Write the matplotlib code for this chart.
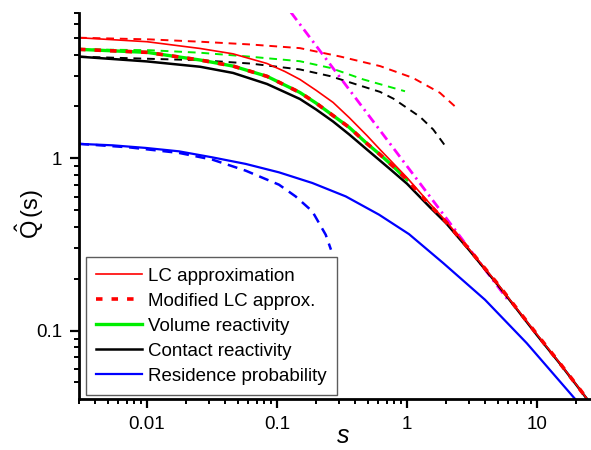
import numpy as np
import matplotlib
matplotlib.use('Agg')
import matplotlib.pyplot as plt
from matplotlib.ticker import LogLocator, FuncFormatter, NullFormatter

plt.rcParams['font.family'] = ['Liberation Sans', 'DejaVu Sans']
plt.rcParams['mathtext.fontset'] = 'custom'
plt.rcParams['mathtext.rm'] = 'Liberation Sans'
plt.rcParams['mathtext.it'] = 'Liberation Sans:italic'

# LC approximation (red solid)
s_lc = [0.003, 0.01, 0.0256, 0.0459, 0.0838, 0.115, 0.15, 0.2, 0.27, 0.36, 0.492, 0.62, 1.0, 1.5, 2, 3, 5, 7, 10, 15, 20, 25]
q_lc = [5.01, 4.75, 4.34, 4.04, 3.55, 3.19, 2.87, 2.48, 2.11, 1.72, 1.355, 1.124, 0.772, 0.545, 0.431, 0.298, 0.186, 0.134, 0.095, 0.0646, 0.0487, 0.039]

# volume reactivity (green)
s_vol = [0.003, 0.01, 0.0256, 0.0459, 0.0838, 0.15, 0.2, 0.27, 0.36, 0.492, 0.62, 0.786, 1.0]
q_vol = [4.29, 4.12, 3.72, 3.43, 2.99, 2.41, 2.09, 1.77, 1.51, 1.218, 1.051, 0.895, 0.752]

# modified LC approximation (red dotted)
s_mod = [0.003, 0.01, 0.0256, 0.0459, 0.0838, 0.15, 0.2, 0.27, 0.36, 0.492, 0.62, 0.786, 1.0, 1.5, 2, 3, 5, 7, 10, 15, 20, 25]
q_mod = [4.29, 4.12, 3.72, 3.43, 2.99, 2.41, 2.09, 1.77, 1.51, 1.218, 1.051, 0.895, 0.752, 0.535, 0.427, 0.297, 0.186, 0.134, 0.095, 0.0646, 0.0487, 0.039]

# contact reactivity (black)
s_con = [0.003, 0.01, 0.0256, 0.0459, 0.0838, 0.15, 0.2, 0.27, 0.36, 0.492, 0.74, 1.0, 1.5, 2, 3, 5, 7, 10, 15, 20, 25]
q_con = [3.89, 3.65, 3.40, 3.13, 2.70, 2.21, 1.92, 1.635, 1.374, 1.124, 0.866, 0.712, 0.52, 0.42, 0.294, 0.184, 0.133, 0.094, 0.0643, 0.0485, 0.0389]

# residence probability (blue)
s_res = [0.003, 0.00541, 0.00977, 0.0176, 0.0318, 0.0574, 0.1036, 0.187, 0.338, 0.609, 1.036, 1.90, 3.98, 8.34, 19.4, 25]
q_res = [1.213, 1.190, 1.149, 1.098, 1.013, 0.928, 0.829, 0.719, 0.601, 0.471, 0.363, 0.2465, 0.151, 0.0845, 0.0405, 0.033]

# small-s expansions (dashed)
s_lc_d = [0.003, 0.0105, 0.0256, 0.062, 0.15, 0.305, 0.62, 1.11, 1.79, 2.41]
q_lc_d = [5.01, 4.90, 4.75, 4.58, 4.36, 3.90, 3.43, 2.93, 2.40, 1.96]
s_vol_d = [0.003, 0.0105, 0.0256, 0.062, 0.15, 0.256, 0.461, 0.965]
q_vol_d = [4.29, 4.24, 4.10, 3.89, 3.66, 3.35, 2.87, 2.45]
s_con_d = [0.003, 0.0105, 0.0256, 0.062, 0.15, 0.256, 0.459, 0.62, 0.785, 1.26, 1.59, 1.96]
q_con_d = [3.89, 3.78, 3.71, 3.55, 3.28, 3.00, 2.61, 2.43, 2.22, 1.74, 1.47, 1.185]
s_res_d = [0.003, 0.00727, 0.0176, 0.0318, 0.0574, 0.1036, 0.139, 0.187, 0.237, 0.26]
q_res_d = [1.213, 1.158, 1.075, 0.983, 0.848, 0.703, 0.601, 0.492, 0.360, 0.295]

# large-s asymptote (magenta)
s_asym = [0.128, 6.0]
q_asym = [7.03, 0.15]

fig = plt.figure(figsize=(5.91, 4.5), dpi=100)
ax = fig.add_axes([79 / 591, 1 - 399 / 450, 1 - 79 / 591, (399 - 12.7) / 450])

ax.plot(s_lc_d, q_lc_d, color='red', lw=1.4, dashes=(4, 3))
ax.plot(s_vol_d, q_vol_d, color='#00ee00', lw=1.4, dashes=(4, 3))
ax.plot(s_con_d, q_con_d, color='black', lw=1.4, dashes=(4, 3))
ax.plot(s_res_d, q_res_d, color='blue', lw=1.8, dashes=(4, 2.7))
ax.plot(s_asym, q_asym, color='magenta', lw=2, dashes=(3.5, 1.7, 0.8, 1.7))

ax.plot(s_res, q_res, color='blue', lw=1.6, label='Residence probability')
ax.plot(s_con, q_con, color='black', lw=1.8, label='Contact reactivity')
ax.plot(s_vol, q_vol, color='#00ee00', lw=2.4, label='Volume reactivity')
ax.plot(s_mod, q_mod, color='red', lw=2.6, dashes=(1.8, 2.5), label='Modified LC approx.')
ax.plot(s_lc, q_lc, color='red', lw=1.2, label='LC approximation')

ax.set_xscale('log')
ax.set_yscale('log')
ax.set_xlim(0.003, 26)
ax.set_ylim(0.0401, 7.0)

fmt = FuncFormatter(lambda v, _: f'{v:g}')
for axis in (ax.xaxis, ax.yaxis):
    axis.set_major_locator(LogLocator(base=10))
    axis.set_minor_locator(LogLocator(base=10, subs=np.arange(2, 10)))
    axis.set_major_formatter(fmt)
    axis.set_minor_formatter(NullFormatter())

for side in ('top', 'right'):
    ax.spines[side].set_visible(False)
for side in ('left', 'bottom'):
    ax.spines[side].set_linewidth(2)
ax.tick_params(which='major', direction='out', length=6.5, width=1.6, labelsize=13.5, pad=5.5)
ax.tick_params(which='minor', direction='out', length=3.5, width=1.4)

ax.set_ylabel(r'$\hat{\mathrm{Q}}\,\mathrm{(s)}$', fontsize=17)
ax.yaxis.set_label_coords(-0.064, 0.479)
ax.set_xlabel(r'$\mathit{s}$', fontsize=18)
ax.xaxis.set_label_coords(0.516, -0.064)

handles, labels = ax.get_legend_handles_labels()
order = ['LC approximation', 'Modified LC approx.', 'Volume reactivity', 'Contact reactivity', 'Residence probability']
hmap = dict(zip(labels, handles))
leg = ax.legend([hmap[k] for k in order], order, loc='lower left', bbox_to_anchor=(0.0137, 0.01),
                borderaxespad=0, fontsize=13.5, fancybox=False, frameon=True, edgecolor='#333333',
                handlelength=2.45, handletextpad=0.3, labelspacing=0.42, borderpad=0.55)
leg.get_frame().set_linewidth(1.0)

fig.savefig('out.png', dpi=100)
